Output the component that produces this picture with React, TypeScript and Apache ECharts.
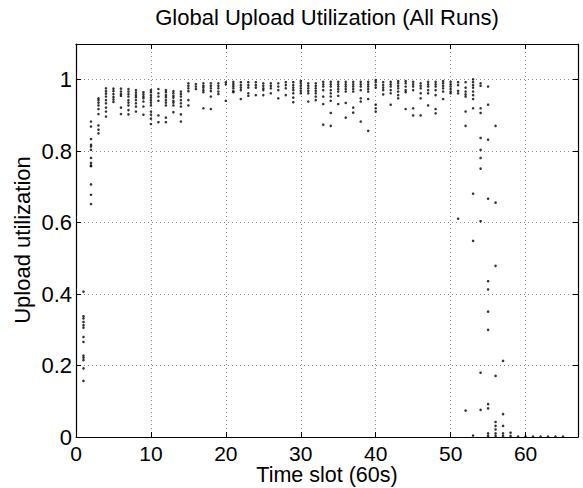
import React, { useEffect, useRef } from "react";
import * as echarts from "echarts";

const chartTitle = "Global Upload Utilization (All Runs)";
const xAxisTitle = "Time slot (60s)";
const yAxisTitle = "Upload utilization";

const xTicks = [0, 10, 20, 30, 40, 50, 60];
const yTicks = [0, 0.2, 0.4, 0.6, 0.8, 1];

const timeSlots = [
  1, 2, 3, 4, 5, 6, 7, 8, 9, 10, 11, 12, 13, 14, 15, 16, 17, 18, 19, 20, 21, 22,
  23, 24, 25, 26, 27, 28, 29, 30, 31, 32, 33, 34, 35, 36, 37, 38, 39, 40, 41, 42,
  43, 44, 45, 46, 47, 48, 49, 50, 51, 52, 53, 54, 55, 56, 57, 58, 59, 60, 61, 62,
  63, 64, 65,
];

// utilization observed in each time slot (one list per slot, all runs)
const utilization = [
  [0.407, 0.338, 0.332, 0.322, 0.313, 0.306, 0.28, 0.266, 0.228, 0.222, 0.215, 0.192, 0.157],
  [0.883, 0.869, 0.834, 0.818, 0.813, 0.804, 0.781, 0.767, 0.76, 0.758, 0.707, 0.678, 0.652],
  [0.948, 0.943, 0.936, 0.928, 0.918, 0.904, 0.872, 0.86, 0.85],
  [0.976, 0.968, 0.961, 0.953, 0.943, 0.934, 0.922, 0.911, 0.897],
  [0.975, 0.968, 0.96, 0.952, 0.945, 0.938],
  [0.975, 0.967, 0.96, 0.955, 0.922, 0.904],
  [0.974, 0.967, 0.96, 0.953, 0.943, 0.936, 0.928, 0.915, 0.903],
  [0.971, 0.964, 0.957, 0.951, 0.943, 0.934, 0.925, 0.911],
  [0.965, 0.959, 0.953, 0.948, 0.939, 0.925, 0.902],
  [0.971, 0.965, 0.957, 0.95, 0.943, 0.936, 0.928, 0.911, 0.902, 0.891, 0.876],
  [0.974, 0.962, 0.953, 0.941, 0.9, 0.881],
  [0.971, 0.965, 0.957, 0.951, 0.943, 0.936, 0.928, 0.894, 0.881],
  [0.968, 0.962, 0.955, 0.95, 0.941, 0.936, 0.928, 0.909],
  [0.967, 0.96, 0.953, 0.943, 0.934, 0.925, 0.903, 0.883],
  [0.99, 0.983, 0.976, 0.968, 0.943, 0.928],
  [0.988, 0.981, 0.974],
  [0.99, 0.983, 0.978, 0.971, 0.965, 0.92],
  [0.99, 0.983, 0.976, 0.968, 0.953, 0.918],
  [0.99, 0.983, 0.976, 0.967, 0.96],
  [0.993, 0.987, 0.941],
  [0.994, 0.988, 0.982, 0.976, 0.968, 0.965],
  [0.993, 0.985, 0.978, 0.971, 0.946],
  [0.993, 0.985, 0.978, 0.962, 0.955],
  [0.993, 0.985, 0.978, 0.957],
  [0.99, 0.983, 0.976, 0.971, 0.957],
  [0.99, 0.983, 0.976, 0.962],
  [0.99, 0.981, 0.971, 0.948],
  [0.993, 0.985, 0.976, 0.957],
  [0.993, 0.985, 0.978, 0.971, 0.962, 0.95, 0.937],
  [0.996, 0.99, 0.983, 0.976, 0.969, 0.962],
  [0.99, 0.983, 0.976, 0.969, 0.962, 0.939],
  [0.99, 0.983, 0.976, 0.969, 0.962, 0.953, 0.943],
  [0.994, 0.987, 0.981, 0.971, 0.953, 0.932, 0.874],
  [0.994, 0.987, 0.981, 0.971, 0.962, 0.953, 0.941, 0.907, 0.871],
  [0.994, 0.987, 0.981, 0.974, 0.967, 0.955, 0.932],
  [0.994, 0.987, 0.981, 0.974, 0.967, 0.935, 0.894],
  [0.994, 0.987, 0.981, 0.974, 0.967, 0.922, 0.908],
  [0.994, 0.987, 0.981, 0.971, 0.948, 0.939, 0.883],
  [0.994, 0.987, 0.981, 0.974, 0.967, 0.946, 0.857],
  [0.999, 0.993, 0.985, 0.978, 0.93, 0.92, 0.911],
  [0.993, 0.985, 0.978, 0.971, 0.959],
  [0.994, 0.987, 0.981, 0.971, 0.962, 0.93],
  [0.996, 0.99, 0.983, 0.976, 0.967, 0.957, 0.948],
  [0.996, 0.99, 0.981, 0.971, 0.965, 0.918],
  [0.994, 0.987, 0.981, 0.971, 0.92, 0.9],
  [0.99, 0.983, 0.976, 0.962, 0.948, 0.9],
  [0.994, 0.987, 0.981, 0.971, 0.962, 0.928],
  [0.994, 0.987, 0.981, 0.971, 0.957, 0.918, 0.906],
  [0.996, 0.99, 0.983, 0.976, 0.967, 0.946],
  [0.994, 0.987, 0.981, 0.974, 0.967, 0.962],
  [0.993, 0.985, 0.969, 0.962, 0.611],
  [0.993, 0.978, 0.967, 0.959, 0.953, 0.911, 0.871, 0.074],
  [1.001, 0.993, 0.985, 0.978, 0.967, 0.957, 0.946, 0.92, 0.681, 0.549, 0.004],
  [0.99, 0.983, 0.92, 0.907, 0.837, 0.804, 0.781, 0.751, 0.604, 0.18, 0.076],
  [0.981, 0.93, 0.832, 0.667, 0.436, 0.413, 0.351, 0.3, 0.092, 0.08, 0.01, 0.003],
  [0.871, 0.656, 0.479, 0.171, 0.042, 0.031, 0.021, 0.01, 0.003],
  [0.213, 0.064, 0.031, 0.01, 0.003],
  [0.012, 0.003],
  [0.001],
  [0.001],
  [0.001],
  [0.001],
  [0.001],
  [0.001],
  [0.001],
];

const FONT = '"Liberation Sans", Arial, Helvetica, sans-serif';

export default function App() {
  const ref = useRef<HTMLDivElement>(null);

  useEffect(() => {
    if (!ref.current) return;
    const chart = echarts.init(ref.current, null, { renderer: "svg" });

    const points: number[][] = [];
    timeSlots.forEach((t, i) => {
      (utilization[i] || []).forEach((v) => points.push([t, v]));
    });

    const isTick = (list: number[], v: number) =>
      list.some((t) => Math.abs(t - v) < 1e-6);

    const axisLineStyle = { color: "#000", width: 1.2 };
    const tickStyle = { color: "#000", width: 1 };
    const gridLine = { color: "#8a8a8a", width: 1, type: [1, 3] };

    chart.setOption({
      animation: false,
      backgroundColor: "#fff",
      grid: { left: 76, top: 44, width: 502, height: 393, containLabel: false },
      xAxis: [
        {
          type: "value",
          position: "bottom",
          min: 0,
          max: 67,
          interval: 10,
          axisLine: { show: true, onZero: false, lineStyle: axisLineStyle },
          axisTick: { show: true, inside: true, length: 5, lineStyle: tickStyle },
          axisLabel: {
            show: true,
            margin: 8,
            color: "#000",
            fontSize: 21,
            lineHeight: 16,
            fontFamily: FONT,
            formatter: (v: number) => (isTick(xTicks, v) ? String(Math.round(v)) : ""),
          },
          splitLine: { show: true, lineStyle: gridLine },
        },
        {
          type: "value",
          position: "top",
          min: 0,
          max: 67,
          interval: 10,
          axisLine: { show: true, onZero: false, lineStyle: axisLineStyle },
          axisTick: { show: true, inside: true, length: 5, lineStyle: tickStyle },
          axisLabel: { show: false },
          splitLine: { show: false },
        },
      ],
      yAxis: [
        {
          type: "value",
          position: "left",
          min: 0,
          max: 1.1,
          interval: 0.2,
          axisLine: { show: true, onZero: false, lineStyle: axisLineStyle },
          axisTick: { show: true, inside: true, length: 5, lineStyle: tickStyle },
          axisLabel: {
            show: true,
            margin: 4,
            color: "#000",
            fontSize: 22,
            lineHeight: 16,
            fontFamily: FONT,
            formatter: (v: number) =>
              isTick(yTicks, v) ? String(Math.round(v * 10) / 10) : "",
          },
          splitLine: { show: true, lineStyle: gridLine },
        },
        {
          type: "value",
          position: "right",
          min: 0,
          max: 1.1,
          interval: 0.2,
          axisLine: { show: true, onZero: false, lineStyle: axisLineStyle },
          axisTick: { show: true, inside: true, length: 5, lineStyle: tickStyle },
          axisLabel: { show: false },
          splitLine: { show: false },
        },
      ],
      graphic: [
        {
          type: "text",
          x: 327,
          y: 17,
          style: {
            text: chartTitle,
            fill: "#000",
            font: `22px ${FONT}`,
            textAlign: "center",
            verticalAlign: "middle",
          },
        },
        {
          type: "text",
          x: 327,
          y: 475,
          style: {
            text: xAxisTitle,
            fill: "#000",
            font: `21.5px ${FONT}`,
            lineHeight: 17,
            textAlign: "center",
            verticalAlign: "middle",
          },
        },
        {
          type: "text",
          x: 22,
          y: 240,
          rotation: Math.PI / 2,
          style: {
            text: yAxisTitle,
            fill: "#000",
            font: `22px ${FONT}`,
            textAlign: "center",
            verticalAlign: "middle",
          },
        },
      ],
      series: [
        {
          type: "scatter",
          xAxisIndex: 0,
          yAxisIndex: 0,
          data: points,
          symbol: "circle",
          symbolSize: 2.6,
          itemStyle: { color: "#000" },
          clip: false,
        },
      ],
    });

    return () => chart.dispose();
  }, []);

  return (
    <div
      ref={ref}
      style={{ position: "absolute", left: 0, top: 0, width: 583, height: 488 }}
    />
  );
}
